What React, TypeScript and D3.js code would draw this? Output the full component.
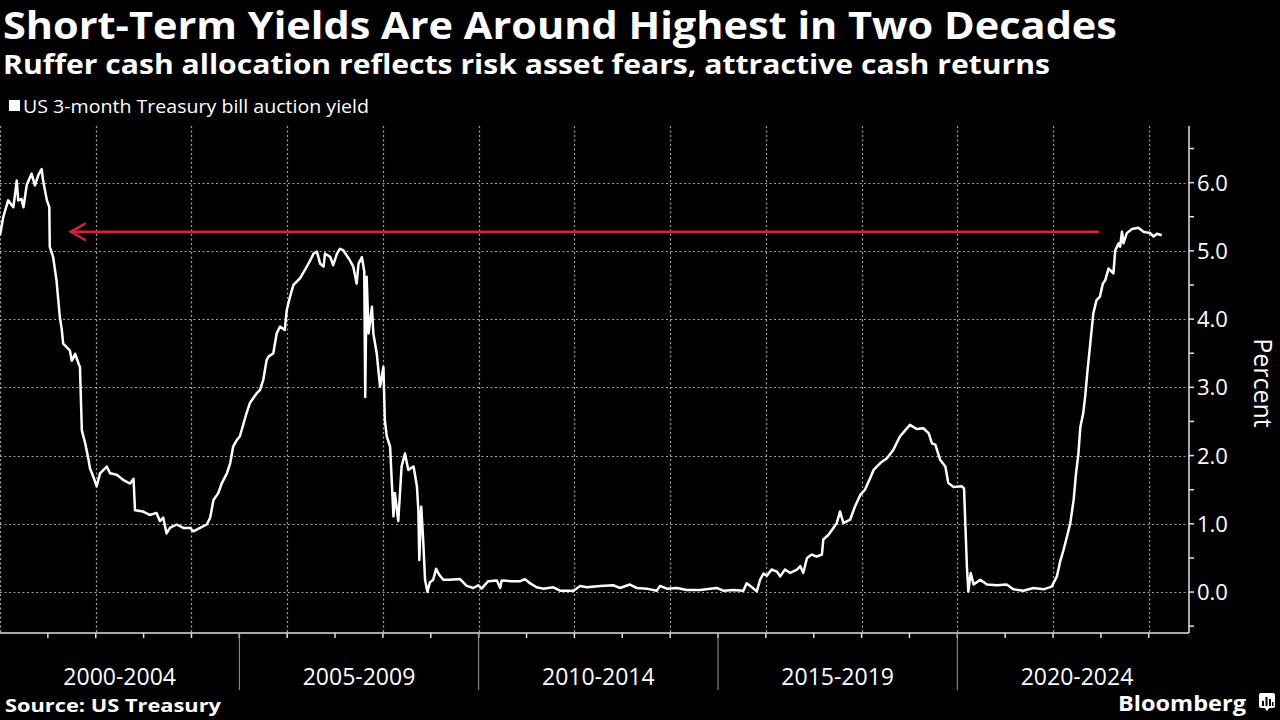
import React, { useEffect } from "react";
import * as d3 from "d3";

// ---- data ----
const years: number[] = [
  2000.0, 2000.07, 2000.17, 2000.28, 2000.35, 2000.38, 2000.45, 2000.49, 2000.56, 2000.66,
  2000.73, 2000.8, 2000.87, 2000.9, 2000.98, 2001.03, 2001.04, 2001.11, 2001.18, 2001.25,
  2001.29, 2001.32, 2001.39, 2001.46, 2001.5, 2001.57, 2001.64, 2001.67, 2001.71, 2001.78,
  2001.85, 2001.88, 2001.95, 2002.02, 2002.09, 2002.23, 2002.3, 2002.44, 2002.58, 2002.72,
  2002.79, 2002.82, 2002.99, 2003.13, 2003.27, 2003.34, 2003.41, 2003.48, 2003.55, 2003.69,
  2003.83, 2003.97, 2004.04, 2004.18, 2004.32, 2004.39, 2004.46, 2004.56, 2004.63, 2004.74,
  2004.81, 2004.87, 2004.95, 2005.01, 2005.15, 2005.22, 2005.36, 2005.43, 2005.5, 2005.57,
  2005.61, 2005.71, 2005.78, 2005.85, 2005.95, 2005.99, 2006.06, 2006.13, 2006.27, 2006.37,
  2006.48, 2006.55, 2006.62, 2006.69, 2006.76, 2006.79, 2006.9, 2006.96, 2007.04, 2007.1,
  2007.17, 2007.31, 2007.38, 2007.45, 2007.49, 2007.56, 2007.61, 2007.63, 2007.66, 2007.7,
  2007.77, 2007.8, 2007.87, 2007.94, 2008.01, 2008.04, 2008.08, 2008.15, 2008.22, 2008.25,
  2008.32, 2008.39, 2008.46, 2008.53, 2008.64, 2008.71, 2008.74, 2008.76, 2008.8, 2008.84,
  2008.88, 2008.93, 2008.98, 2009.05, 2009.11, 2009.18, 2009.26, 2009.4, 2009.61, 2009.75,
  2009.89, 2009.99, 2010.06, 2010.2, 2010.38, 2010.45, 2010.48, 2010.66, 2010.87, 2010.97,
  2011.07, 2011.21, 2011.35, 2011.56, 2011.7, 2011.98, 2012.12, 2012.26, 2012.54, 2012.81,
  2012.95, 2013.16, 2013.3, 2013.51, 2013.72, 2013.79, 2013.93, 2014.14, 2014.35, 2014.63,
  2014.97, 2015.11, 2015.32, 2015.53, 2015.6, 2015.71, 2015.81, 2015.88, 2015.95, 2016.02,
  2016.12, 2016.23, 2016.3, 2016.4, 2016.51, 2016.65, 2016.72, 2016.78, 2016.86, 2016.96,
  2017.06, 2017.17, 2017.2, 2017.31, 2017.41, 2017.48, 2017.55, 2017.62, 2017.76, 2017.86,
  2017.97, 2018.07, 2018.18, 2018.25, 2018.39, 2018.53, 2018.66, 2018.8, 2018.91, 2019.01,
  2019.15, 2019.29, 2019.4, 2019.47, 2019.54, 2019.64, 2019.75, 2019.81, 2019.92, 2020.09,
  2020.14, 2020.2, 2020.23, 2020.28, 2020.34, 2020.48, 2020.62, 2020.83, 2021.03, 2021.17,
  2021.38, 2021.59, 2021.8, 2021.97, 2022.08, 2022.15, 2022.22, 2022.29, 2022.36, 2022.43,
  2022.48, 2022.53, 2022.57, 2022.63, 2022.67, 2022.72, 2022.77, 2022.84, 2022.91, 2022.98,
  2023.04, 2023.09, 2023.16, 2023.19, 2023.26, 2023.3, 2023.37, 2023.4, 2023.44, 2023.47,
  2023.54, 2023.65, 2023.78, 2023.89, 2024.03, 2024.1, 2024.17, 2024.27,
];

const yields: number[] = [
  5.23, 5.5, 5.74, 5.64, 6.03, 5.74, 5.76, 5.64, 5.97, 6.13,
  5.96, 6.11, 6.2, 6.03, 5.74, 5.64, 5.06, 4.91, 4.57, 4.03,
  3.85, 3.64, 3.59, 3.54, 3.39, 3.49, 3.35, 3.3, 2.37, 2.18,
  1.94, 1.81, 1.69, 1.55, 1.74, 1.84, 1.74, 1.72, 1.64, 1.59,
  1.66, 1.2, 1.18, 1.13, 1.16, 1.04, 1.09, 0.86, 0.94, 0.99,
  0.94, 0.94, 0.89, 0.94, 0.99, 1.09, 1.35, 1.45, 1.59, 1.74,
  1.89, 2.13, 2.23, 2.28, 2.62, 2.77, 2.91, 2.96, 3.11, 3.4,
  3.45, 3.5, 3.79, 3.89, 3.84, 4.13, 4.33, 4.5, 4.6, 4.72,
  4.86, 4.96, 4.99, 4.81, 4.77, 4.96, 4.91, 4.79, 4.96, 5.03,
  5.01, 4.86, 4.77, 4.52, 4.81, 4.91, 4.7, 2.86, 4.62, 3.79,
  4.18, 3.79, 3.5, 3.01, 3.3, 2.52, 2.28, 2.13, 1.11, 1.45,
  1.04, 1.84, 2.03, 1.79, 1.84, 1.55, 1.2, 0.47, 1.25, 0.77,
  0.18, 0.0, 0.14, 0.18, 0.34, 0.25, 0.18, 0.18, 0.19, 0.09,
  0.06, 0.1, 0.05, 0.16, 0.17, 0.06, 0.17, 0.16, 0.16, 0.19,
  0.13, 0.07, 0.05, 0.07, 0.02, 0.02, 0.09, 0.07, 0.09, 0.1,
  0.06, 0.11, 0.06, 0.05, 0.02, 0.09, 0.05, 0.06, 0.03, 0.03,
  0.06, 0.02, 0.03, 0.02, 0.13, 0.07, 0.01, 0.18, 0.27, 0.24,
  0.33, 0.3, 0.23, 0.33, 0.28, 0.33, 0.38, 0.28, 0.5, 0.55,
  0.52, 0.55, 0.77, 0.84, 0.94, 1.01, 1.18, 1.01, 1.06, 1.25,
  1.42, 1.5, 1.67, 1.79, 1.89, 1.96, 2.08, 2.28, 2.37, 2.45,
  2.39, 2.4, 2.33, 2.18, 2.16, 1.94, 1.84, 1.6, 1.54, 1.55,
  1.52, 0.37, 0.01, 0.28, 0.11, 0.18, 0.11, 0.1, 0.11, 0.04,
  0.02, 0.06, 0.04, 0.08, 0.23, 0.45, 0.62, 0.81, 1.01, 1.35,
  1.74, 2.03, 2.42, 2.62, 2.86, 3.25, 3.59, 4.08, 4.28, 4.33,
  4.52, 4.57, 4.74, 4.72, 4.67, 5.01, 5.11, 5.06, 5.28, 5.11,
  5.26, 5.32, 5.34, 5.28, 5.26, 5.21, 5.25, 5.23,
];

const yTicks: number[] = [0, 1, 2, 3, 4, 5, 6];
const yMinorTicks: number[] = [-0.5, 0.5, 1.5, 2.5, 3.5, 4.5, 5.5, 6.5];
const periodLabels: string[] = ["2000-2004", "2005-2009", "2010-2014", "2015-2019", "2020-2024"];
const periodStarts: number[] = [2000, 2005, 2010, 2015, 2020];
const gridYears: number[] = [2000, 2002, 2004, 2006, 2008, 2010, 2012, 2014, 2016, 2018, 2020, 2022, 2024];
const tickYears: number[] = d3.range(2001, 2025);

// red arrow (current level pointing back to 2001)
const arrowLevel = 5.28;
const arrowFrom = 2022.94;
const arrowTo = 2001.48;

const W = 1280;
const H = 720;
const plotLeft = 0;
const plotRight = 1189;
const plotTop = 126;
const plotBottom = 633;

const FONT = "'Open Sans', 'Liberation Sans', sans-serif";

export default function App() {
  useEffect(() => {
    document.body.style.margin = "0";
    document.body.style.background = "#000";
  }, []);

  const x = d3.scaleLinear().domain([2000, 2024.84]).range([plotLeft, plotRight]);
  const y = d3.scaleLinear().domain([-0.6, 6.83]).range([plotBottom, plotTop]);

  const pts = years.map((yr, i) => [yr, yields[i]] as [number, number]);
  const line = d3
    .line<[number, number]>()
    .x((d) => x(d[0]))
    .y((d) => y(d[1]));

  const ay = y(arrowLevel);
  const ax = x(arrowTo);

  return (
    <svg
      width={W}
      height={H}
      style={{ position: "absolute", left: 0, top: 0, display: "block" }}
      fontFamily={FONT}
    >
      <rect x={0} y={0} width={W} height={H} fill="#000" />

      {/* titles */}
      <text x={3} y={39} fill="#fff" fontSize={37} fontWeight={700} textLength={1114} lengthAdjust="spacingAndGlyphs">
        Short-Term Yields Are Around Highest in Two Decades
      </text>
      <text x={3} y={74} fill="#fff" fontSize={26} fontWeight={700} textLength={1047} lengthAdjust="spacingAndGlyphs">
        Ruffer cash allocation reflects risk asset fears, attractive cash returns
      </text>

      {/* legend */}
      <rect x={9} y={100} width={11} height={11} fill="#fff" />
      <text x={23} y={113} fill="#fff" fontSize={19} textLength={346} lengthAdjust="spacingAndGlyphs">
        US 3-month Treasury bill auction yield
      </text>

      {/* grid */}
      <g stroke="#a0a0a0" strokeWidth={1.2} strokeDasharray="2,2.5">
        {yTicks.map((t) => (
          <line key={"gy" + t} x1={plotLeft} x2={plotRight} y1={Math.round(y(t)) + 0.5} y2={Math.round(y(t)) + 0.5} />
        ))}
        {gridYears.map((g) => (
          <line key={"gx" + g} x1={Math.round(x(g)) + 0.5} x2={Math.round(x(g)) + 0.5} y1={plotTop} y2={plotBottom} />
        ))}
      </g>

      {/* axes */}
      <g stroke="#e0e0e0" strokeWidth={1.5}>
        <line x1={plotLeft} x2={plotRight} y1={plotBottom} y2={plotBottom} />
        <line x1={plotRight} x2={plotRight} y1={plotTop} y2={plotBottom} />
        {yTicks.concat(yMinorTicks).map((t) => (
          <line key={"yt" + t} x1={plotRight} x2={plotRight + 5} y1={y(t)} y2={y(t)} />
        ))}
        {tickYears.map((t) => (
          <line key={"xt" + t} x1={x(t)} x2={x(t)} y1={plotBottom} y2={plotBottom + 5} />
        ))}
      </g>
      <g stroke="#9a9a9a" strokeWidth={1}>
        {periodStarts.slice(1).map((p) => (
          <line key={"sep" + p} x1={x(p)} x2={x(p)} y1={plotBottom} y2={690} />
        ))}
      </g>

      {/* y labels */}
      {yTicks.map((t) => (
        <text key={"yl" + t} x={plotRight + 8} y={y(t) + 8} fill="#fff" fontSize={22}>
          {t.toFixed(1)}
        </text>
      ))}
      <text
        transform={`translate(1254, ${383}) rotate(90)`}
        textAnchor="middle"
        fill="#fff"
        fontSize={25}
      >
        Percent
      </text>

      {/* x labels */}
      {periodLabels.map((lab, i) => (
        <text
          key={lab}
          x={(x(periodStarts[i]) + x(periodStarts[i] + 5)) / 2}
          y={685}
          textAnchor="middle"
          fill="#fff"
          fontSize={23}
        >
          {lab}
        </text>
      ))}

      {/* data line */}
      <path d={line(pts) || ""} fill="none" stroke="#fff" strokeWidth={2.5} strokeLinejoin="round" />

      {/* red arrow */}
      <g stroke="#d6203c" strokeWidth={2.5} fill="none" strokeLinecap="round">
        <line x1={x(arrowFrom)} x2={ax} y1={ay} y2={ay} />
        <polyline points={`${ax + 14},${ay - 8} ${ax},${ay} ${ax + 14},${ay + 8}`} />
      </g>

      {/* footer */}
      <text x={5} y={712} fill="#fff" fontSize={18} fontWeight={700} textLength={216} lengthAdjust="spacingAndGlyphs">
        Source: US Treasury
      </text>
      <text x={1118} y={711} fill="#fff" fontSize={22} fontWeight={700} textLength={128} lengthAdjust="spacingAndGlyphs">
        Bloomberg
      </text>
      <g>
        <rect x={1259} y={693} width={16} height={15} rx={2} fill="#fff" />
        <polygon points="1264,707 1270,707 1267,711" fill="#fff" />
        <rect x={1262} y={701} width={2} height={5} fill="#000" />
        <rect x={1265.5} y={697} width={2} height={9} fill="#000" />
        <rect x={1269} y={699} width={2} height={7} fill="#000" />
        <rect x={1272} y={702} width={1.5} height={4} fill="#000" />
      </g>
    </svg>
  );
}
